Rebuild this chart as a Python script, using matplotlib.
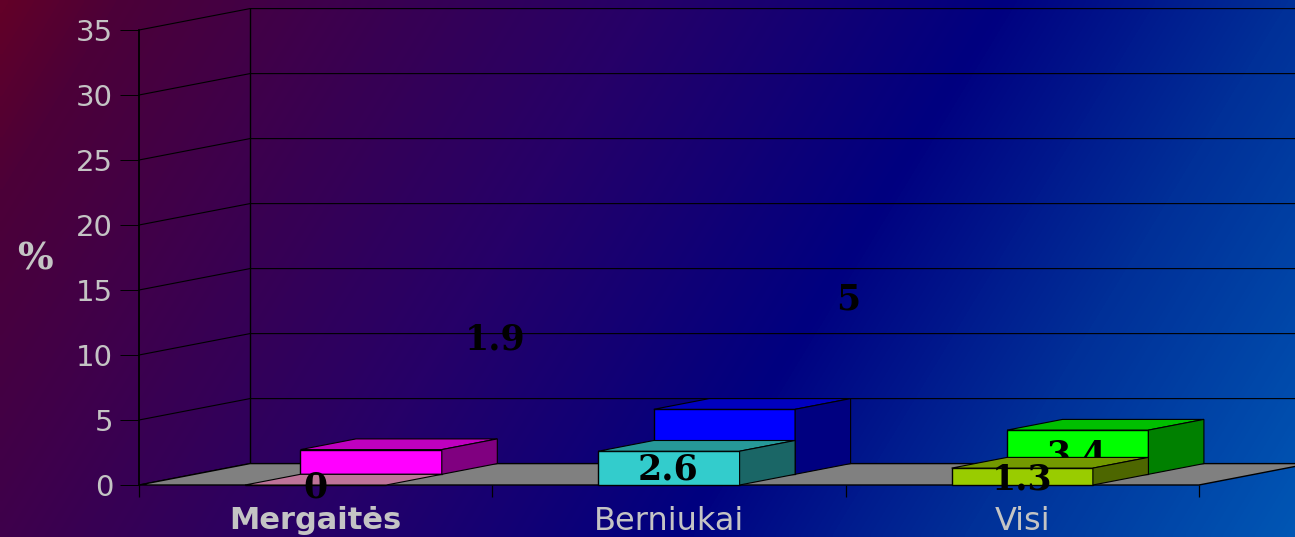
# -*- coding: utf-8 -*-

import numpy as np
import matplotlib
matplotlib.use('Agg')
import matplotlib.pyplot as plt
from matplotlib.colors import LinearSegmentedColormap, to_rgb

# data
categories = ['Mergaitės', 'Berniukai', 'Visi']
front_values = [0, 2.6, 1.3]
back_values = [1.9, 5, 3.4]
y_ticks = [0, 5, 10, 15, 20, 25, 30, 35]

front_colors = ['#ff99cc', '#33cccc', '#99cc00']
back_colors = ['#ff00ff', '#0000ff', '#00ff00']

W, H = 1295, 537
X0, Y0, Y35 = 139, 485, 30   # pixel position of the chart origin and top
CAT_W = 353.3                # pixels per category
DX = 111 / CAT_W             # depth of the box, in category units
DY = 21.4 / 13.0             # depth of the box, in percent units
GREY = '#c4c4c4'

# where the labels sit in the picture (pixels), they are not on the bars
front_label_pos = [(315, 487), (668, 470), (1022, 480)]
back_label_pos = [(495, 340), (848, 300), (1077, 455)]

fig = plt.figure(figsize=(W / 100, H / 100), dpi=100)

# background gradient
bg = fig.add_axes([0, 0, 1, 1], zorder=-1)
bg.axis('off')
yy, xx = np.mgrid[0:1:120j, 0:1:300j]
grad = (xx + 0.25 * yy) / 1.25
cmap = LinearSegmentedColormap.from_list('bg', [
    (0.0, '#620028'), (0.07, '#4c0038'), (0.2, '#3e004c'), (0.4, '#260068'),
    (0.62, '#000080'), (0.8, '#003098'), (1.0, '#0056b4')])
bg.imshow(grad, cmap=cmap, aspect='auto', vmin=0, vmax=1, interpolation='bilinear')

ax = fig.add_axes([X0 / W, (H - Y0) / H, (W - X0) / W, (Y0 - Y35) / H])
ax.patch.set_alpha(0)
ax.set_xlim(0, (W - X0) / CAT_W)
ax.set_ylim(0, 35)


def shade(color, k):
    return tuple(c * k for c in to_rgb(color))


def draw_box(x, value, row, color, z):
    """one 3d looking bar, row 0 is the front one and row 1 the back one"""
    w = 0.4
    dx, dy = DX / 2, DY / 2
    x = x + row * dx
    y0 = row * dy
    y1 = y0 + value
    ax.bar(x, value, w, bottom=y0, align='edge', color=color, edgecolor='black',
           linewidth=1, zorder=z, clip_on=False)
    ax.fill([x, x + w, x + w + dx, x + dx], [y1, y1, y1 + dy, y1 + dy],
            facecolor=shade(color, 0.75), edgecolor='black', linewidth=0.8, zorder=z, clip_on=False)
    if value > 0:
        ax.fill([x + w, x + w + dx, x + w + dx, x + w], [y0, y0 + dy, y1 + dy, y1],
                facecolor=shade(color, 0.5), edgecolor='black', linewidth=0.8, zorder=z, clip_on=False)


# walls and floor
for v in y_ticks:
    ax.plot([0, DX, ax.get_xlim()[1]], [v, v + DY, v + DY], color='black', linewidth=0.8, zorder=1, clip_on=False)
ax.plot([DX, DX], [DY, 35 + DY], color='black', linewidth=1, zorder=1, clip_on=False)
n = len(categories)
ax.fill([0, n, n + DX, DX], [0, 0, DY, DY], facecolor='#808080', edgecolor='black', linewidth=1, zorder=2, clip_on=False)

# bars
for i in range(n):
    draw_box(i + 0.3, back_values[i], 1, back_colors[i], 3)
for i in range(n):
    draw_box(i + 0.3, front_values[i], 0, front_colors[i], 4 + i * 0.1)

# value labels
for values, places, z in [(front_values, front_label_pos, 6), (back_values, back_label_pos, 3.5)]:
    for v, (px, py) in zip(values, places):
        ax.text(px / W, 1 - py / H, '%g' % v, transform=fig.transFigure, ha='center', va='center',
                family='DejaVu Serif', fontweight='bold', fontsize=25, color='black', zorder=z, clip_on=False)

fig.text(35 / W, 1 - 259 / H, '%', ha='center', va='center', family='DejaVu Serif',
         fontweight='bold', fontsize=27, color=GREY)

# axes
for name in ['top', 'right', 'bottom']:
    ax.spines[name].set_visible(False)
ax.spines['left'].set_linewidth(1.3)
ax.set_yticks(y_ticks)
ax.tick_params(axis='y', length=13.7, width=0.7, pad=5, labelsize=21, labelcolor=GREY)
ax.set_xticks(range(n + 1))
ax.set_xticklabels([])
ax.tick_params(axis='x', which='major', length=8.6, width=0.9)
ax.set_xticks([i + 0.5 for i in range(n)], minor=True)
ax.set_xticklabels(categories, minor=True, fontsize=23, color=GREY)
ax.tick_params(axis='x', which='minor', length=0, pad=15)
ax.get_xticklabels(minor=True)[0].set_fontweight('bold')
ax.get_xticklabels(minor=True)[0].set_fontsize(22)

fig.savefig('out.png', dpi=100)
